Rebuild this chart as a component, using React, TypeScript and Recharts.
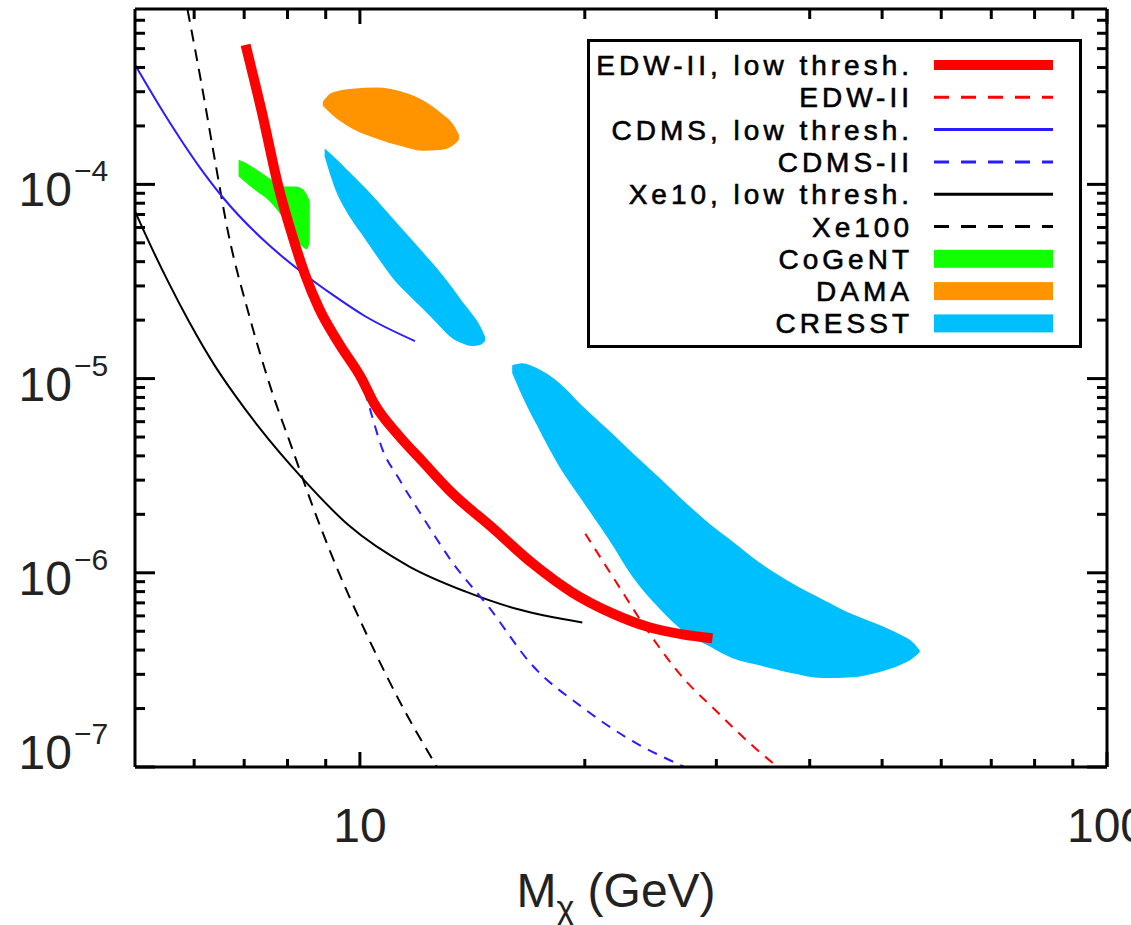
import React from "react";
import { Area, ComposedChart, Legend, Line, XAxis, YAxis } from "recharts";

// axis ranges and ticks
const xDomain = [5, 100];
const yDomain = [1e-7, 8e-4];
const xMajor = [10, 100];
const xMinor = [6, 7, 8, 9, 20, 30, 40, 50, 60, 70, 80, 90];
const yMajor = [1e-7, 1e-6, 1e-5, 1e-4];
const yExp = ["\u22127", "\u22126", "\u22125", "\u22124"];
const yMinor = [
	2e-7, 3e-7, 4e-7, 5e-7, 6e-7, 7e-7, 8e-7, 9e-7,
	2e-6, 3e-6, 4e-6, 5e-6, 6e-6, 7e-6, 8e-6, 9e-6,
	2e-5, 3e-5, 4e-5, 5e-5, 6e-5, 7e-5, 8e-5, 9e-5,
	2e-4, 3e-4, 4e-4, 5e-4, 6e-4, 7e-4,
];

// EDW-II, low thresh.
const edwLowX = [7.03, 7.39, 7.79, 8.11, 8.44, 8.81, 9.37, 10.06, 10.44, 11.28, 12.11, 13.28, 15.03, 17.01, 19.24, 21.77, 24.4, 27.02, 29.64];
const edwLowY = [5.23e-4, 2.37e-4, 9.53e-5, 5.53e-5, 3.45e-5, 2.31e-5, 1.52e-5, 9.95e-6, 7.49e-6, 5.07e-6, 3.77e-6, 2.58e-6, 1.71e-6, 1.12e-6, 7.92e-7, 6.18e-7, 5.24e-7, 4.82e-7, 4.6e-7];

// EDW-II
const edwX = [20.03, 21.96, 24.4, 27.02, 29.92, 33.22, 36.22];
const edwY = [1.59e-6, 9.13e-7, 4.88e-7, 2.9e-7, 1.96e-7, 1.33e-7, 1.0e-7];

// CDMS, low thresh.
const cdmsLowX = [5.0, 5.48, 6.08, 6.59, 7.46, 8.36, 9.17, 10.15, 11.85];
const cdmsLowY = [4.13e-4, 2.29e-4, 1.25e-4, 8.36e-5, 5.09e-5, 3.53e-5, 2.72e-5, 2.1e-5, 1.56e-5];

// CDMS-II
const cdms2X = [10.15, 10.38, 10.7, 11.28, 12.22, 13.28, 14.89, 17.01, 19.85, 22.66, 27.2];
const cdms2Y = [8.64e-6, 6.42e-6, 4.4e-6, 3.05e-6, 1.86e-6, 1.14e-6, 6.63e-7, 3.34e-7, 2.03e-7, 1.43e-7, 1.0e-7];

// Xe10, low thresh.
const xe10X = [5.0, 5.26, 5.55, 5.9, 6.39, 6.8, 7.32, 8.36, 9.67, 11.63, 13.83, 16.14, 19.85];
const xe10Y = [7.26e-5, 4.74e-5, 3.1e-5, 1.98e-5, 1.17e-5, 8.24e-6, 5.64e-6, 3.09e-6, 1.75e-6, 1.08e-6, 8.02e-7, 6.55e-7, 5.55e-7];

// Xe100
const xe100X = [5.88, 6.14, 6.39, 6.67, 7.1, 7.62, 8.11, 8.62, 9.26, 10.15, 11.28, 12.68];
const xe100Y = [7.9e-4, 3.26e-4, 1.36e-4, 5.53e-5, 2.15e-5, 8.64e-6, 4.4e-6, 2.27e-6, 1.12e-6, 5.06e-7, 2.21e-7, 1.0e-7];

// CoGeNT region
const cogentX = [6.88, 7.06, 7.28, 7.5, 7.74, 7.98, 8.18, 8.36, 8.49, 8.57];
const cogentLo = [1.1e-4, 1.01e-4, 9.19e-5, 8.46e-5, 7.43e-5, 6.3e-5, 5.34e-5, 4.8e-5, 4.63e-5, 5.09e-5];
const cogentHi = [1.34e-4, 1.28e-4, 1.19e-4, 1.1e-4, 1.02e-4, 9.75e-5, 9.75e-5, 9.53e-5, 8.87e-5, 8.17e-5];

// DAMA region
const damaX = [8.92, 9.17, 9.76, 10.54, 11.38, 12.11, 12.88, 13.36, 13.57];
const damaLo = [2.54e-4, 2.29e-4, 1.94e-4, 1.72e-4, 1.57e-4, 1.49e-4, 1.51e-4, 1.6e-4, 1.7e-4];
const damaHi = [2.67e-4, 2.96e-4, 3.11e-4, 3.15e-4, 3.0e-4, 2.73e-4, 2.31e-4, 2.01e-4, 1.8e-4];

// CRESST, first region
const cresstAX = [8.97, 9.26, 9.61, 10.06, 10.54, 11.04, 11.56, 12.11, 12.68, 13.28, 13.7, 14.13, 14.49, 14.71];
const cresstALo = [1.39e-4, 9.53e-5, 7.17e-5, 5.53e-5, 4.26e-5, 3.33e-5, 2.75e-5, 2.31e-5, 1.93e-5, 1.62e-5, 1.52e-5, 1.47e-5, 1.49e-5, 1.56e-5];
const cresstAHi = [1.53e-4, 1.37e-4, 1.19e-4, 9.99e-5, 8.27e-5, 6.76e-5, 5.53e-5, 4.52e-5, 3.7e-5, 2.95e-5, 2.5e-5, 2.15e-5, 1.86e-5, 1.64e-5];

// CRESST, second region
const cresstBX = [15.99, 16.49, 17.27, 18.49, 19.85, 21.57, 23.15, 25.17, 27.02, 29.37, 31.53, 34.26, 37.94, 41.62, 45.64, 49.32, 52.78, 54.95, 56.15];
const cresstBLo = [1.07e-5, 8.14e-6, 5.71e-6, 3.52e-6, 2.35e-6, 1.47e-6, 9.57e-7, 6.55e-7, 5.05e-7, 4.18e-7, 3.63e-7, 3.34e-7, 3.04e-7, 2.87e-7, 2.9e-7, 3.07e-7, 3.34e-7, 3.63e-7, 3.9e-7];
const cresstBHi = [1.17e-5, 1.2e-5, 1.13e-5, 9.49e-6, 7.23e-6, 5.38e-6, 4.15e-6, 3.09e-6, 2.38e-6, 1.79e-6, 1.45e-6, 1.13e-6, 8.81e-7, 7.29e-7, 6.11e-7, 5.43e-7, 4.82e-7, 4.39e-7, 3.99e-7];

// legend entries
const legendNames = ["EDW-II, low thresh.", "EDW-II", "CDMS, low thresh.", "CDMS-II", "Xe10, low thresh.", "Xe100", "CoGeNT", "DAMA", "CRESST"];
const legendKinds = ["thick", "dash", "solid", "dash", "solid", "dash", "band", "band", "band"];

const RED = "#ff0000";
const BLUE = "#2a1cff";
const BLACK = "#000000";
const GREEN = "#11ff00";
const ORANGE = "#ff9400";
const CYAN = "#00bfff";
const legendColors = [RED, RED, BLUE, BLUE, BLACK, BLACK, GREEN, ORANGE, CYAN];

const FONT = "'Liberation Sans', Arial, Helvetica, sans-serif";
const TEXT = "#222";

const toLine = (xs: number[], ys: number[]) => xs.map((x, i) => ({ x, y: ys[i] }));
const toBand = (xs: number[], lo: number[], hi: number[]) =>
	xs.map((x, i) => ({ x, r: [lo[i], hi[i]] }));

const xTicks = [...xMinor, ...xMajor].sort((a, b) => a - b);
const yTicks = [...yMinor, ...yMajor].sort((a, b) => a - b);

function BottomTick(props: any) {
	const { x, y, payload } = props;
	const major = xMajor.includes(payload.value);
	return (
		<g>
			<line x1={x} y1={y} x2={x} y2={y - (major ? 15 : 8)} stroke="#000" strokeWidth={3} />
			{major && (
				<text x={x} y={y + 75} textAnchor="middle" fontSize={48} fontFamily={FONT} fill={TEXT}>
					{payload.value}
				</text>
			)}
		</g>
	);
}

function TopTick(props: any) {
	const { x, y, payload } = props;
	const major = xMajor.includes(payload.value);
	return <line x1={x} y1={y} x2={x} y2={y + (major ? 15 : 10)} stroke="#000" strokeWidth={3} />;
}

function LeftTick(props: any) {
	const { x, y, payload } = props;
	const i = yMajor.indexOf(payload.value);
	const major = i >= 0;
	const shift = i === 0 ? -20 : 0; // lowest label sits up inside the frame
	return (
		<g>
			<line x1={x} y1={y} x2={x + (major ? 20 : 10)} y2={y} stroke="#000" strokeWidth={3} />
			{major && (
				<g fontFamily={FONT} fill={TEXT}>
					<text x={x - 63} y={y + 22 + shift} textAnchor="end" fontSize={48}>10</text>
					<text x={x - 61} y={y - 3 + shift} textAnchor="start" fontSize={30}>{yExp[i]}</text>
				</g>
			)}
		</g>
	);
}

function RightTick(props: any) {
	const { x, y, payload } = props;
	const major = yMajor.includes(payload.value);
	return <line x1={x} y1={y} x2={x - (major ? 20 : 10)} y2={y} stroke="#000" strokeWidth={3} />;
}

function LegendBox() {
	const rowY = (i: number) => 26 + i * 32.3;
	return (
		<svg width={495} height={309} style={{ display: "block" }}>
			<rect x={1.5} y={1.5} width={492} height={306} fill="#fff" stroke="#000" strokeWidth={3} />
			{legendNames.map((name, i) => {
				const cy = rowY(i);
				const kind = legendKinds[i];
				const color = legendColors[i];
				return (
					<g key={name}>
						<text
							x={326}
							y={cy + 10}
							textAnchor="end"
							fontSize={28}
							letterSpacing={4}
							fontFamily={FONT}
							fill="#000"
							stroke="#000"
							strokeWidth={0.6}
						>
							{name}
						</text>
						{kind === "band" ? (
							<rect x={347} y={cy - 9} width={119} height={18} fill={color} />
						) : (
							<line
								x1={347}
								y1={cy}
								x2={466}
								y2={cy}
								stroke={color}
								strokeWidth={kind === "thick" ? 10 : 3}
								strokeDasharray={kind === "dash" ? "15 12" : undefined}
							/>
						)}
					</g>
				);
			})}
		</svg>
	);
}

export default function App() {
	const axisLine = { stroke: "#000", strokeWidth: 3 };
	return (
		<div style={{ position: "absolute", left: 0, top: 0, width: 1131, height: 925, background: "#fff" }}>
			<ComposedChart width={1131} height={925} margin={{ top: 0, right: 0, bottom: 0, left: 0 }}>
				<XAxis
					xAxisId="b"
					type="number"
					dataKey="x"
					scale="log"
					domain={xDomain}
					allowDataOverflow
					ticks={xTicks}
					interval={0}
					tick={<BottomTick />}
					tickSize={0}
					tickMargin={0}
					tickLine={false}
					axisLine={axisLine}
					height={158}
				/>
				<XAxis
					xAxisId="t"
					orientation="top"
					type="number"
					dataKey="x"
					scale="log"
					domain={xDomain}
					allowDataOverflow
					ticks={xTicks}
					interval={0}
					tick={<TopTick />}
					tickSize={0}
					tickMargin={0}
					tickLine={false}
					axisLine={axisLine}
					height={9}
				/>
				<YAxis
					yAxisId="l"
					type="number"
					scale="log"
					domain={yDomain}
					allowDataOverflow
					ticks={yTicks}
					interval={0}
					tick={<LeftTick />}
					tickSize={0}
					tickMargin={0}
					tickLine={false}
					axisLine={axisLine}
					width={135}
				/>
				<YAxis
					yAxisId="r"
					orientation="right"
					type="number"
					scale="log"
					domain={yDomain}
					allowDataOverflow
					ticks={yTicks}
					interval={0}
					tick={<RightTick />}
					tickSize={0}
					tickMargin={0}
					tickLine={false}
					axisLine={axisLine}
					width={24}
				/>
				<Line xAxisId="b" yAxisId="l" data={toLine(xe100X, xe100Y)} dataKey="y" type="monotone" stroke={BLACK} strokeWidth={2} strokeDasharray="12 8" dot={false} isAnimationActive={false} />
				<Line xAxisId="b" yAxisId="l" data={toLine(xe10X, xe10Y)} dataKey="y" type="monotone" stroke={BLACK} strokeWidth={2} dot={false} isAnimationActive={false} />
				<Line xAxisId="b" yAxisId="l" data={toLine(cdmsLowX, cdmsLowY)} dataKey="y" type="monotone" stroke={BLUE} strokeWidth={2} dot={false} isAnimationActive={false} />
				<Line xAxisId="b" yAxisId="l" data={toLine(cdms2X, cdms2Y)} dataKey="y" type="monotone" stroke={BLUE} strokeWidth={2} strokeDasharray="10 8" dot={false} isAnimationActive={false} />
				<Line xAxisId="b" yAxisId="l" data={toLine(edwX, edwY)} dataKey="y" type="monotone" stroke={RED} strokeWidth={2} strokeDasharray="10 8" dot={false} isAnimationActive={false} />
				<Area xAxisId="b" yAxisId="l" data={toBand(cogentX, cogentLo, cogentHi)} dataKey="r" type="monotone" stroke="none" fill={GREEN} fillOpacity={1} isAnimationActive={false} />
				<Area xAxisId="b" yAxisId="l" data={toBand(damaX, damaLo, damaHi)} dataKey="r" type="monotone" stroke="none" fill={ORANGE} fillOpacity={1} isAnimationActive={false} />
				<Area xAxisId="b" yAxisId="l" data={toBand(cresstAX, cresstALo, cresstAHi)} dataKey="r" type="monotone" stroke="none" fill={CYAN} fillOpacity={1} isAnimationActive={false} />
				<Area xAxisId="b" yAxisId="l" data={toBand(cresstBX, cresstBLo, cresstBHi)} dataKey="r" type="monotone" stroke="none" fill={CYAN} fillOpacity={1} isAnimationActive={false} />
				<Line xAxisId="b" yAxisId="l" data={toLine(edwLowX, edwLowY)} dataKey="y" type="monotone" stroke={RED} strokeWidth={10} dot={false} isAnimationActive={false} />
				<Legend
					layout="horizontal"
					verticalAlign="middle"
					align="center"
					content={() => <LegendBox />}
					wrapperStyle={{ position: "absolute", left: 587, top: 39, width: 495, height: 309 }}
				/>
				<text x={616} y={907} textAnchor="middle" fontSize={48} fontFamily={FONT} fill={TEXT}>
					M
					<tspan fontSize={34} dy={12}>{"\u03c7"}</tspan>
					<tspan dy={-12}>{"  (GeV)"}</tspan>
				</text>
			</ComposedChart>
		</div>
	);
}
